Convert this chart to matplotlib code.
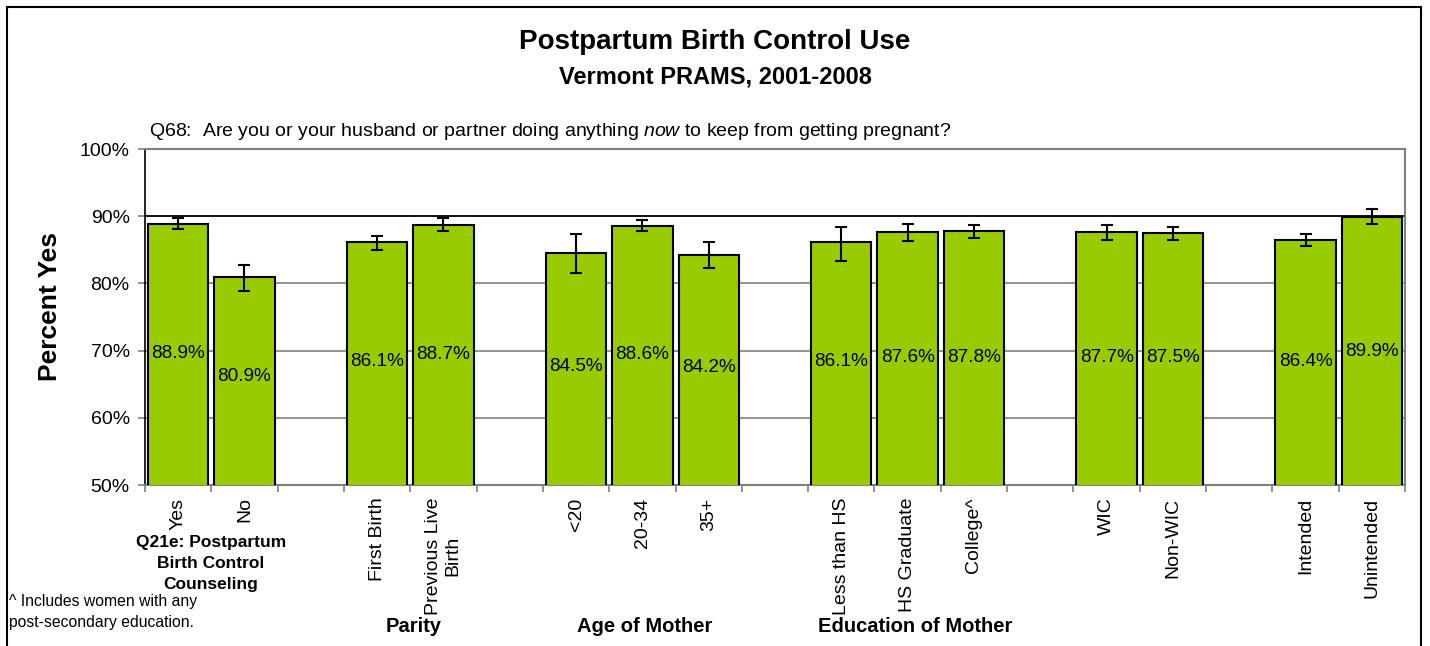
import numpy as np
import matplotlib
matplotlib.use("Agg")
import matplotlib.pyplot as plt
from matplotlib.patches import Rectangle

plt.rcParams['font.family'] = ['Liberation Sans', 'DejaVu Sans']
plt.rcParams['mathtext.fontset'] = 'custom'
plt.rcParams['mathtext.it'] = 'Liberation Sans:italic'
plt.rcParams['mathtext.rm'] = 'Liberation Sans'

# blank entries are the spacer slots between groups
categories = ["Yes", "No", "",
              "First Birth", "Previous Live\nBirth", "",
              "<20", "20-34", "35+", "",
              "Less than HS", "HS Graduate", "College^", "",
              "WIC", "Non-WIC", "",
              "Intended", "Unintended"]
values = [88.9, 80.9, np.nan,
          86.1, 88.7, np.nan,
          84.5, 88.6, 84.2, np.nan,
          86.1, 87.6, 87.8, np.nan,
          87.7, 87.5, np.nan,
          86.4, 89.9]
ci_low = [88.1, 78.9, np.nan,
          84.9, 87.8, np.nan,
          81.5, 87.8, 82.3, np.nan,
          83.3, 86.3, 86.8, np.nan,
          86.5, 86.5, np.nan,
          85.5, 88.9]
ci_high = [89.8, 82.8, np.nan,
           87.1, 89.8, np.nan,
           87.4, 89.4, 86.1, np.nan,
           88.4, 88.9, 88.7, np.nan,
           88.7, 88.4, np.nan,
           87.4, 91.0]

group_names = ["Q21e: Postpartum\nBirth Control\nCounseling", "Parity",
               "Age of Mother", "Education of Mother"]

x = np.arange(len(categories))
vals = np.array(values)
err = np.array([vals - np.array(ci_low), np.array(ci_high) - vals])

W, H = 1430, 646
fig = plt.figure(figsize=(W / 100, H / 100), dpi=100)
ax = fig.add_axes([145 / W, 1 - 485 / H, 1260 / W, 336 / H])

ax.bar(x, vals, width=0.91, color='#99CC00', edgecolor='black', linewidth=1.5, zorder=3)
ax.errorbar(x, vals, yerr=err, fmt='none', ecolor='black', elinewidth=1.5,
            capsize=4.5, capthick=1.5, zorder=4)

# value labels sit inside the bars, a bit below the 70% line
for xi, v in zip(x, vals):
    if np.isnan(v):
        continue
    ax.text(xi, 69.5 - 0.42 * (88.9 - v), f"{v:.1f}%", ha='center', va='center',
            fontsize=13.7, zorder=5)

ax.set_xlim(-0.5, len(categories) - 0.5)
ax.set_ylim(50, 100)
ax.set_yticks([50, 60, 70, 80, 90, 100])
ax.set_yticklabels([f"{t}%" for t in range(50, 101, 10)], fontsize=14)
for t in [60, 70, 80]:
    ax.axhline(t, color='#808080', linewidth=1.2, zorder=1)
ax.axhline(90, color='black', linewidth=1.3, zorder=1)

ax.set_xticks(x)
ax.set_xticklabels(categories, rotation=90, fontsize=14, multialignment='center')
ax.set_xticks(np.arange(-0.5, len(categories)), minor=True)
ax.tick_params(axis='x', which='major', length=0, pad=9)
ax.tick_params(axis='x', which='minor', length=5, color='#808080', width=1.2)
ax.tick_params(axis='y', length=5, color='#808080', width=1.2, pad=6)

for s in ['top', 'right', 'bottom']:
    ax.spines[s].set_color('#808080')
    ax.spines[s].set_linewidth(1.5)
ax.spines['left'].set_color('black')
ax.spines['left'].set_linewidth(1.2)

ax.set_ylabel("Percent Yes", fontsize=19, fontweight='bold')
ax.yaxis.set_label_coords(-0.066, 0.53)

ax.text(0.003, 1.02, r"Q68:  Are you or your husband or partner doing anything $\mathit{now}$ to keep from getting pregnant?",
        transform=ax.transAxes, ha='left', va='bottom', fontsize=14)

fig.text(0.5, 1 - 42 / H, "Postpartum Birth Control Use", ha='center', va='center',
         fontsize=20, fontweight='bold')
fig.text(0.5, 1 - 77 / H, "Vermont PRAMS, 2001-2008", ha='center', va='center',
         fontsize=17, fontweight='bold')

# group captions under the tick labels
fig.text(211 / W, 1 - 563 / H, group_names[0], ha='center', va='center', fontsize=12.5,
         fontweight='bold', linespacing=1.5)
fig.text(414 / W, 1 - 626 / H, group_names[1], ha='center', va='center', fontsize=14.5,
         fontweight='bold')
fig.text(645 / W, 1 - 626 / H, group_names[2], ha='center', va='center', fontsize=14.5,
         fontweight='bold')
fig.text(915 / W, 1 - 626 / H, group_names[3], ha='center', va='center', fontsize=14.5,
         fontweight='bold')

fig.text(9 / W, 1 - 612 / H, "^ Includes women with any\npost-secondary education.",
         ha='left', va='center', fontsize=11.3, linespacing=1.5)

fig.patches.append(Rectangle((7 / W, -0.02), 1414 / W, 1.02 - 7 / H, transform=fig.transFigure,
                             fill=False, edgecolor='black', linewidth=1.5))

fig.savefig("out.png", dpi=100)
